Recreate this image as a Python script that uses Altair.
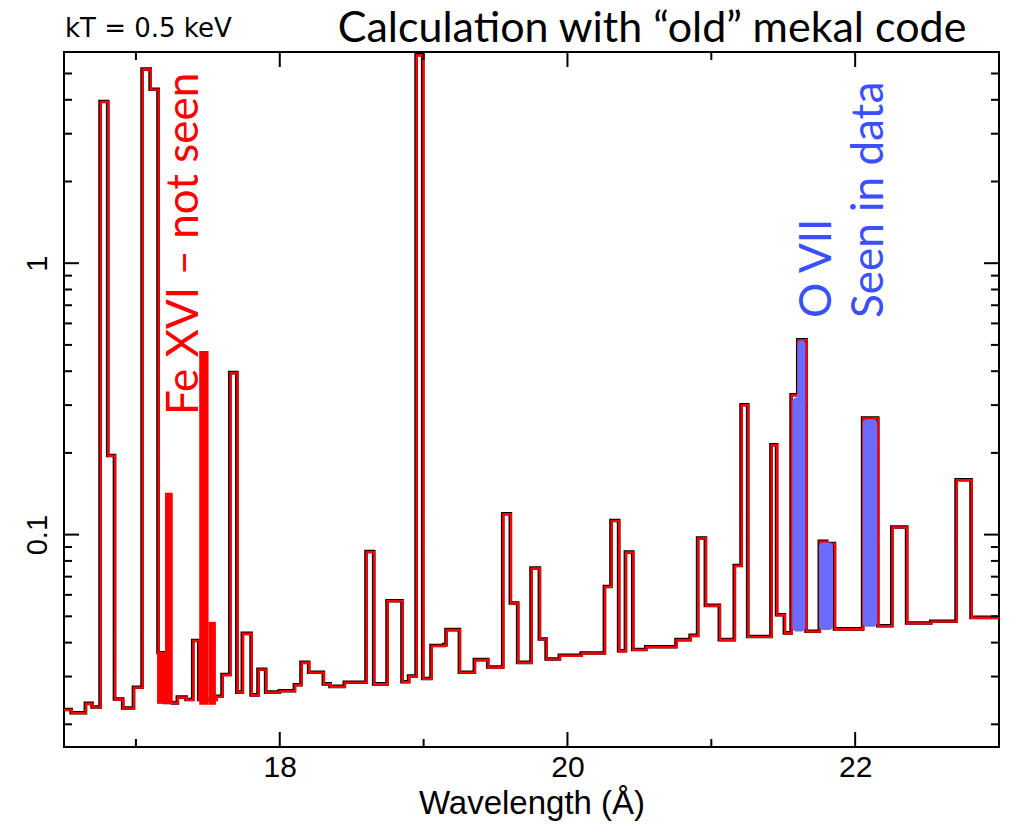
import altair as alt
import pandas as pd

# ---------------- data ----------------
# step spectrum: left bin edges (Angstrom) and photon flux in each bin
edges = [16.500, 16.554, 16.653, 16.700, 16.755, 16.808, 16.855, 16.912, 16.987, 17.047,
         17.103, 17.158, 17.202, 17.260, 17.292, 17.353, 17.399, 17.441, 17.562, 17.603,
         17.657, 17.706, 17.744, 17.805, 17.853, 17.906, 18.002, 18.106, 18.152, 18.205,
         18.307, 18.354, 18.453, 18.604, 18.657, 18.750, 18.854, 18.900, 18.952, 18.998,
         19.056, 19.144, 19.160, 19.253, 19.357, 19.450, 19.554, 19.607, 19.658, 19.751,
         19.809, 19.856, 19.948, 20.099, 20.261, 20.307, 20.360, 20.407, 20.458, 20.549,
         20.759, 20.857, 20.909, 20.963, 21.060, 21.164, 21.211, 21.257, 21.419, 21.458,
         21.512, 21.559, 21.605, 21.663, 21.755, 21.806, 21.860, 22.056, 22.161, 22.259,
         22.362, 22.530, 22.706, 22.810, 23.000]
flux = [0.0226, 0.0220, 0.0238, 0.0231, 3.93, 0.195, 0.0247, 0.0229, 0.0273, 5.17,
        4.36, 0.0366, 0.0240, 0.0239, 0.0251, 0.0246, 0.0406, 0.0246, 0.0253, 0.0304,
        0.394, 0.0262, 0.0431, 0.0256, 0.0318, 0.0262, 0.0265, 0.0279, 0.0337, 0.0310,
        0.0281, 0.0275, 0.0285, 0.0864, 0.0281, 0.0569, 0.0286, 0.0300, 5.84, 0.0294,
        0.0389, 0.0392, 0.0445, 0.0310, 0.0345, 0.0324, 0.119, 0.0558, 0.0337, 0.0751,
        0.0411, 0.0347, 0.0358, 0.0365, 0.0642, 0.1124, 0.0372, 0.0860, 0.0376, 0.0385,
        0.0409, 0.0424, 0.0968, 0.0547, 0.0409, 0.0767, 0.300, 0.0420, 0.2136, 0.0505,
        0.0433, 0.3265, 0.5205, 0.0439, 0.0941, 0.0923, 0.0448, 0.268, 0.0460, 0.1063,
        0.0471, 0.0478, 0.1588, 0.0494]

# Fe XVI lines (red filled, "not seen")
fe_x1 = [17.147, 17.202, 17.440, 17.505]
fe_x2 = [17.202, 17.256, 17.505, 17.556]
fe_lo = [0.0238, 0.0238, 0.0236, 0.0236]
fe_hi = [0.0370, 0.1426, 0.475, 0.0477]

# O VII lines (blue highlighter, "seen in data")
o_x1 = [21.563, 21.598, 21.749, 22.053]
o_x2 = [21.655, 21.655, 21.846, 22.153]
o_lo = [0.0440, 0.300, 0.0445, 0.0458]
o_hi = [0.320, 0.520, 0.0935, 0.266]

# axis ticks
x_major = [18, 20, 22]
x_minor = [17, 19, 21]
y_major = [0.1, 1]
y_minor = [0.02, 0.03, 0.04, 0.05, 0.06, 0.07, 0.08, 0.09,
           0.2, 0.3, 0.4, 0.5, 0.6, 0.7, 0.8, 0.9, 2, 3, 4, 5]

# ---------------- chart ----------------
W, H = 935, 695
LMAJ, LMIN = 15, 8
xs = alt.Scale(domain=[16.5, 23], nice=False, zero=False)
ys = alt.Scale(type="log", domain=[0.0165, 6], nice=False)

x_axis = alt.Axis(values=x_major, title="Wavelength (Å)", ticks=False, tickSize=0,
                  domain=False, grid=False, labelFont="Liberation Sans", labelFontSize=30,
                  labelPadding=5, labelColor="black", titleFont="Liberation Sans",
                  titleFontSize=33, titleFontWeight="normal", titleColor="black",
                  titlePadding=5, labelFlush=False)
y_axis = alt.Axis(values=y_major, title=None, ticks=False, tickSize=0, domain=False,
                  grid=False, labelFont="Liberation Sans", labelFontSize=29,
                  labelAngle=270, labelPadding=12, labelColor="black",
                  format="~g", labelFlush=False)

X = lambda f: alt.X(f, scale=xs, axis=x_axis)
Y = lambda f: alt.Y(f, scale=ys, axis=y_axis)

step_df = pd.DataFrame({"x": edges, "y": flux + [flux[-1]]})

shadow = alt.Chart(step_df).mark_line(
    interpolate="step-after", color="black", strokeWidth=3.6, xOffset=-0.6, yOffset=-0.4
).encode(x=X("x:Q"), y=Y("y:Q"))

redline = alt.Chart(step_df).mark_line(
    interpolate="step-after", color="#ff0000", strokeWidth=2.4
).encode(x=X("x:Q"), y=Y("y:Q"))

fe_df = pd.DataFrame({"x": fe_x1, "x2": fe_x2, "y": fe_lo, "y2": fe_hi})
fe = alt.Chart(fe_df).mark_rect(color="#ff0000").encode(
    x=X("x:Q"), x2="x2:Q", y=Y("y:Q"), y2="y2:Q")

o_df = pd.DataFrame({"x": o_x1, "x2": o_x2, "y": o_lo, "y2": o_hi})
ovii = alt.Chart(o_df).mark_rect(color="#6b6bff", cornerRadius=4).encode(
    x=X("x:Q"), x2="x2:Q", y=Y("y:Q"), y2="y2:Q")

# ticks drawn inward on all four sides
def yticks(vals, length):
    df = pd.DataFrame({"y": vals})
    left = alt.Chart(df).mark_rule(color="black", strokeWidth=2).encode(
        y=Y("y:Q"), x=alt.value(0), x2=alt.value(length))
    right = alt.Chart(df).mark_rule(color="black", strokeWidth=2).encode(
        y=Y("y:Q"), x=alt.value(W - length), x2=alt.value(W))
    return [left, right]

def xticks(vals, length):
    df = pd.DataFrame({"x": vals})
    bottom = alt.Chart(df).mark_rule(color="black", strokeWidth=2).encode(
        x=X("x:Q"), y=alt.value(H - length), y2=alt.value(H))
    top = alt.Chart(df).mark_rule(color="black", strokeWidth=2).encode(
        x=X("x:Q"), y=alt.value(0), y2=alt.value(length))
    return [bottom, top]

tick_layers = yticks(y_major, LMAJ) + yticks(y_minor, LMIN) + xticks(x_major, LMAJ) + xticks(x_minor, LMIN)

def label(text, x, y, color, size, font, angle=0, align="left", baseline="middle"):
    return alt.Chart(pd.DataFrame({"t": [text]})).mark_text(
        color=color, fontSize=size, font=font, angle=angle, align=align, baseline=baseline
    ).encode(text="t:N", x=alt.value(x), y=alt.value(y))

texts = [
    label("kT = 0.5 keV", 1, -15, "black", 26, "DejaVu Sans", baseline="alphabetic"),
    label("Calculation with \u201cold\u201d mekal code", 588, -10, "black", 43, "Lato",
          align="center", baseline="alphabetic"),
    label("Fe XVI \u2013 not seen", 121, 363, "#ff0000", 44, "Lato", angle=270),
    label("O VII", 754, 266, "#3a50ff", 44, "Lato", angle=270),
    label("Seen in data", 806, 266, "#3a50ff", 44, "Lato", angle=270),
]

chart = alt.layer(shadow, redline, fe, ovii, *tick_layers, *texts).properties(
    width=W, height=H,
    autosize=alt.AutoSizeParams(type="none"),
    padding={"left": 64, "top": 52, "right": 11, "bottom": 78},
    background="white",
).configure_view(stroke="black", strokeWidth=2)

chart.save("out.html", embed_options={"renderer": "svg", "actions": False})
